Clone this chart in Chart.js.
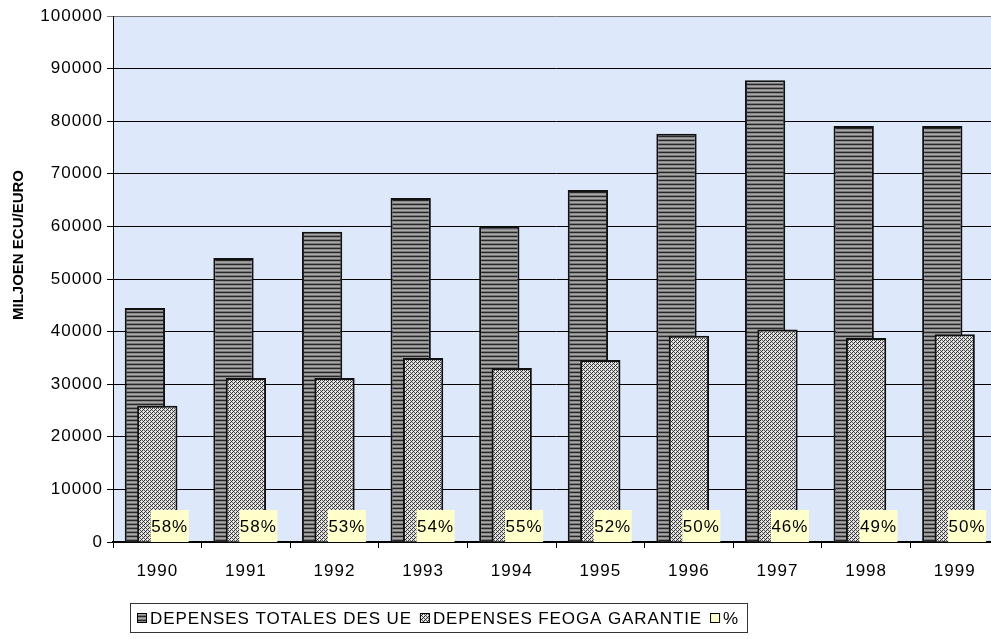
<!DOCTYPE html>
<html>
<head>
<meta charset="utf-8">
<script src="https://cdn.jsdelivr.net/npm/chart.js@4.4.1/dist/chart.umd.min.js"></script>
<style>
  html, body { margin: 0; padding: 0; background: #ffffff; overflow: hidden; }
  #wrap { position: relative; width: 1000px; height: 639px; }
</style>
</head>
<body>
<div id="wrap"><canvas id="c"></canvas></div>
<script>
// ---- data ----
const years = ['1990', '1991', '1992', '1993', '1994', '1995', '1996', '1997', '1998', '1999'];
const totalEU = [44500, 54000, 59000, 65400, 60000, 66900, 77600, 87800, 79100, 79100];
const feoga = [25900, 31200, 31200, 35000, 33100, 34600, 39200, 40400, 38800, 39500];
const pct = [58, 58, 53, 54, 55, 52, 50, 46, 49, 50];
const seriesNames = ['DEPENSES TOTALES DES UE', 'DEPENSES FEOGA GARANTIE', '%'];
const yAxisTitle = 'MILJOEN ECU/EURO';
const yMin = 0, yMax = 100000, yStep = 10000;

const FONT = '"Liberation Sans", Arial, sans-serif';

// ---- fill patterns ----
function makePattern(size, painter) {
  const c = document.createElement('canvas');
  c.width = size; c.height = size;
  const g = c.getContext('2d');
  painter(g);
  return document.createElement('canvas').getContext('2d').createPattern(c, 'repeat');
}
const stripePattern = makePattern(4, g => {
  const rows = ['#262626', '#8a8a8a', '#a9a9a9', '#767676'];
  rows.forEach((col, i) => { g.fillStyle = col; g.fillRect(0, i, 4, 1); });
});
const hatchPattern = makePattern(4, g => {
  for (let x = 0; x < 4; x++) for (let y = 0; y < 4; y++) {
    const k = (x + y) % 4;
    let col;
    if (k === 0) col = '#2e2e2e';
    else if (k === 1) col = '#d4d4d4';
    else if (k === 2) col = ((x % 2) === 0) ? '#5e5e5e' : '#f0f0f0';
    else col = '#e2e2e2';
    g.fillStyle = col;
    g.fillRect(x, y, 1, 1);
  }
});
const labelFill = '#FFFFCC';

// ---- plugins ----
const plotBg = {
  id: 'plotBg',
  beforeDraw(chart) {
    const { ctx, chartArea: a } = chart;
    ctx.save();
    ctx.fillStyle = '#dde9fb';
    ctx.fillRect(a.left, a.top, a.right - a.left, a.bottom - a.top);
    ctx.restore();
    try { ctx.letterSpacing = '1px'; } catch (e) {}
  }
};

const orderedBars = {
  id: 'orderedBars',
  beforeDatasetsDraw(chart) {
    const { ctx, chartArea: a } = chart;
    ctx.save();
    ctx.beginPath();
    ctx.rect(a.left, a.top - 2, a.right - a.left, a.bottom - a.top + 4);
    ctx.clip();
    // draw totals first, FEOGA on top
    [0, 1].forEach(i => chart.getDatasetMeta(i).controller.draw());
    // percentage labels with yellow boxes
    const meta = chart.getDatasetMeta(2);
    ctx.font = '17px ' + FONT;
    ctx.textAlign = 'center';
    ctx.textBaseline = 'middle';
    meta.data.forEach((el, i) => {
      const w = 38, h = 32;
      const x = el.x;
      ctx.fillStyle = labelFill;
      ctx.fillRect(x - w / 2, a.bottom - h, w, h);
      ctx.fillStyle = '#000';
      ctx.fillText(pct[i] + '%', x, a.bottom - h / 2 + 1);
    });
    ctx.restore();
    return false;
  }
};

const extras = {
  id: 'extras',
  afterDraw(chart) {
    const { ctx } = chart;
    // y-axis title
    ctx.save();
    try { ctx.letterSpacing = '0px'; } catch (e) {}
    ctx.translate(19, 245);
    ctx.rotate(-Math.PI / 2);
    ctx.font = 'bold 15px ' + FONT;
    ctx.fillStyle = '#000';
    ctx.textAlign = 'center';
    ctx.textBaseline = 'middle';
    ctx.fillText(yAxisTitle, 0, 0);
    ctx.restore();

    // legend
    const box = { left: 130.5, top: 603.5, right: 747.5, bottom: 632.5 };
    ctx.save();
    ctx.fillStyle = '#ffffff';
    ctx.fillRect(box.left, box.top, box.right - box.left, box.bottom - box.top);
    ctx.strokeStyle = '#333';
    ctx.lineWidth = 1;
    ctx.strokeRect(box.left, box.top, box.right - box.left, box.bottom - box.top);
    ctx.font = '17px ' + FONT;
    try { ctx.letterSpacing = '0.9px'; } catch (e) {}
    ctx.textBaseline = 'middle';
    ctx.textAlign = 'left';
    const fills = [stripePattern, hatchPattern, labelFill];
    let x = 137;
    const cy = (box.top + box.bottom) / 2;
    seriesNames.forEach((name, i) => {
      ctx.fillStyle = fills[i];
      ctx.fillRect(x, cy - 5, 10, 10);
      ctx.strokeStyle = '#000';
      ctx.strokeRect(x + 0.5, cy - 4.5, 9, 9);
      x += 13;
      ctx.fillStyle = '#000';
      ctx.fillText(name, x, cy + 1);
      x += ctx.measureText(name).width + 8;
    });
    ctx.restore();
  }
};

// ---- chart ----
new Chart(document.getElementById('c'), {
  type: 'bar',
  data: {
    labels: years,
    datasets: [
      { label: seriesNames[0], data: totalEU, backgroundColor: stripePattern, borderColor: '#111', borderWidth: 2 },
      { label: seriesNames[1], data: feoga, backgroundColor: hatchPattern, borderColor: '#111', borderWidth: 2 },
      { label: seriesNames[2], data: pct, backgroundColor: labelFill, borderWidth: 0 }
    ]
  },
  options: {
    responsive: true,
    maintainAspectRatio: false,
    animation: false,
    categoryPercentage: 0.42,
    barPercentage: 3.25,
    layout: { padding: { left: 0, top: 16, right: 1, bottom: 0 } },
    plugins: {
      legend: { display: false },
      tooltip: { enabled: false },
      title: { display: false }
    },
    scales: {
      x: {
        offset: true,
        grid: { display: true, drawOnChartArea: false, drawTicks: true, tickLength: 6, color: '#000', offset: true },
        border: { display: true, color: '#000', width: 2 },
        ticks: { color: '#000', font: { family: FONT, size: 17 }, padding: 13, maxRotation: 0 },
        afterFit(s) { s.height = 97; }
      },
      y: {
        min: yMin, max: yMax,
        grid: { color: (c) => c.tick && c.tick.value === yMax ? '#777' : '#000', lineWidth: 1, tickLength: 6, drawTicks: true },
        border: { display: true, color: '#000', width: 1 },
        ticks: { stepSize: yStep, color: '#000', font: { family: FONT, size: 17 }, padding: 4,
                 callback: (v) => String(v) },
        afterFit(s) { s.width = 113; }
      }
    }
  },
  plugins: [plotBg, orderedBars, extras]
});
</script>
</body>
</html>
